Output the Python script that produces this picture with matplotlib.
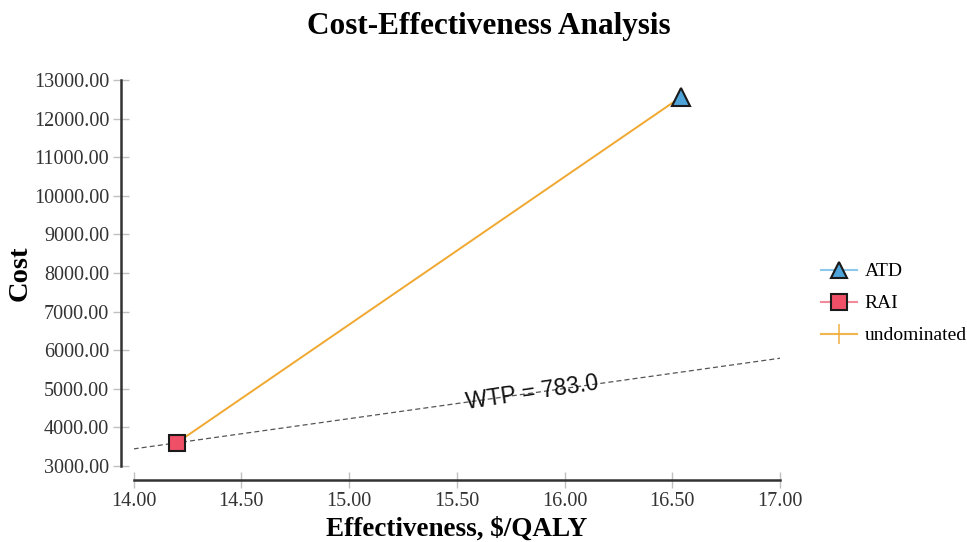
import matplotlib
matplotlib.use("Agg")
import matplotlib.pyplot as plt
import numpy as np

# strategies: effectiveness (x) and cost (y)
strategies = ["ATD", "RAI"]
effectiveness = [16.54, 14.20]
cost = [12560.0, 3600.0]
marker_styles = ["^", "s"]
fill_colors = ["#4ea3d8", "#ef5068"]
line_colors = ["#8cc8ec", "#f28a9a"]

# undominated frontier (RAI -> ATD)
frontier_x = [14.20, 16.54]
frontier_y = [3600.0, 12560.0]

wtp = 783.0
x_ticks = [14.0, 14.5, 15.0, 15.5, 16.0, 16.5, 17.0]
y_ticks = [3000, 4000, 5000, 6000, 7000, 8000, 9000, 10000, 11000, 12000, 13000]

serif = ["Liberation Serif", "DejaVu Serif"]
plt.rcParams["font.family"] = serif

fig = plt.figure(figsize=(9.67, 5.42), dpi=100)
ax = fig.add_axes([0.1382, 0.1402, 0.6685, 0.7122])

orange = "#f0a830"

# willingness-to-pay line through the cheapest strategy
wx = np.array([x_ticks[0], x_ticks[-1]])
wy = cost[1] + wtp * (wx - effectiveness[1])
ax.plot(wx, wy, ls=(0, (4, 2.5)), color="#555555", lw=0.9, zorder=1)

ax.plot(frontier_x, frontier_y, color=orange, lw=1.4, zorder=2)

for name, ex, c, m, fc, lc in zip(strategies, effectiveness, cost, marker_styles, fill_colors, line_colors):
    ax.plot([ex], [c], marker=m, ms=13 if m == "^" else 12, mfc=fc, mec="#1a1a1a",
            mew=1.5, ls="none", zorder=3)

# label on the WTP line
tx = 15.85
ty = cost[1] + wtp * (tx - effectiveness[1])
ax.text(tx, ty, "WTP = %.1f" % wtp, fontsize=16.5, family=["Liberation Sans", "DejaVu Sans"],
        rotation=8.5, rotation_mode="anchor", ha="center", va="center", color="#111111", zorder=4)

ax.set_xlim(14.0, 17.0)
ax.set_ylim(3000, 13000)
ax.set_xticks(x_ticks)
ax.set_yticks(y_ticks)
ax.set_xticklabels(["%.2f" % v for v in x_ticks])
ax.set_yticklabels(["%.2f" % v for v in y_ticks])

for s in ["top", "right"]:
    ax.spines[s].set_visible(False)
ax.spines["left"].set_position(("outward", 9))
ax.spines["bottom"].set_position(("outward", 10))
for s in ["left", "bottom"]:
    ax.spines[s].set_color("#333333")
    ax.spines[s].set_linewidth(1.8)
ax.tick_params(direction="inout", length=11, width=1, color="#c0c0c0",
               labelsize=14.5, labelcolor="#333333", pad=3)

# title centred on the figure, not the axes
fig.text(0.506, 0.952, "Cost-Effectiveness Analysis", fontsize=22.5, fontweight="bold",
         ha="center", va="center")
ax.set_xlabel("Effectiveness, $/QALY", fontsize=19.5, fontweight="bold", labelpad=4)
ax.set_ylabel("Cost", fontsize=20.5, fontweight="bold", labelpad=1)

# legend handles
h_atd, = ax.plot([], [], color=line_colors[0], marker="^", ms=12, mfc=fill_colors[0], mec="#1a1a1a", mew=1.5)
h_rai, = ax.plot([], [], color=line_colors[1], marker="s", ms=11, mfc=fill_colors[1], mec="#1a1a1a", mew=1.5)
h_und, = ax.plot([], [], color=orange, marker="|", ms=14, mew=1.2, alpha=0.85)
fig.legend([h_atd, h_rai, h_und], strategies + ["undominated"], loc="center left",
           bbox_to_anchor=(0.831, 0.44), frameon=False, fontsize=14,
           handlelength=1.85, labelspacing=0.74, handletextpad=0.4)

fig.savefig("out.png", dpi=100)
